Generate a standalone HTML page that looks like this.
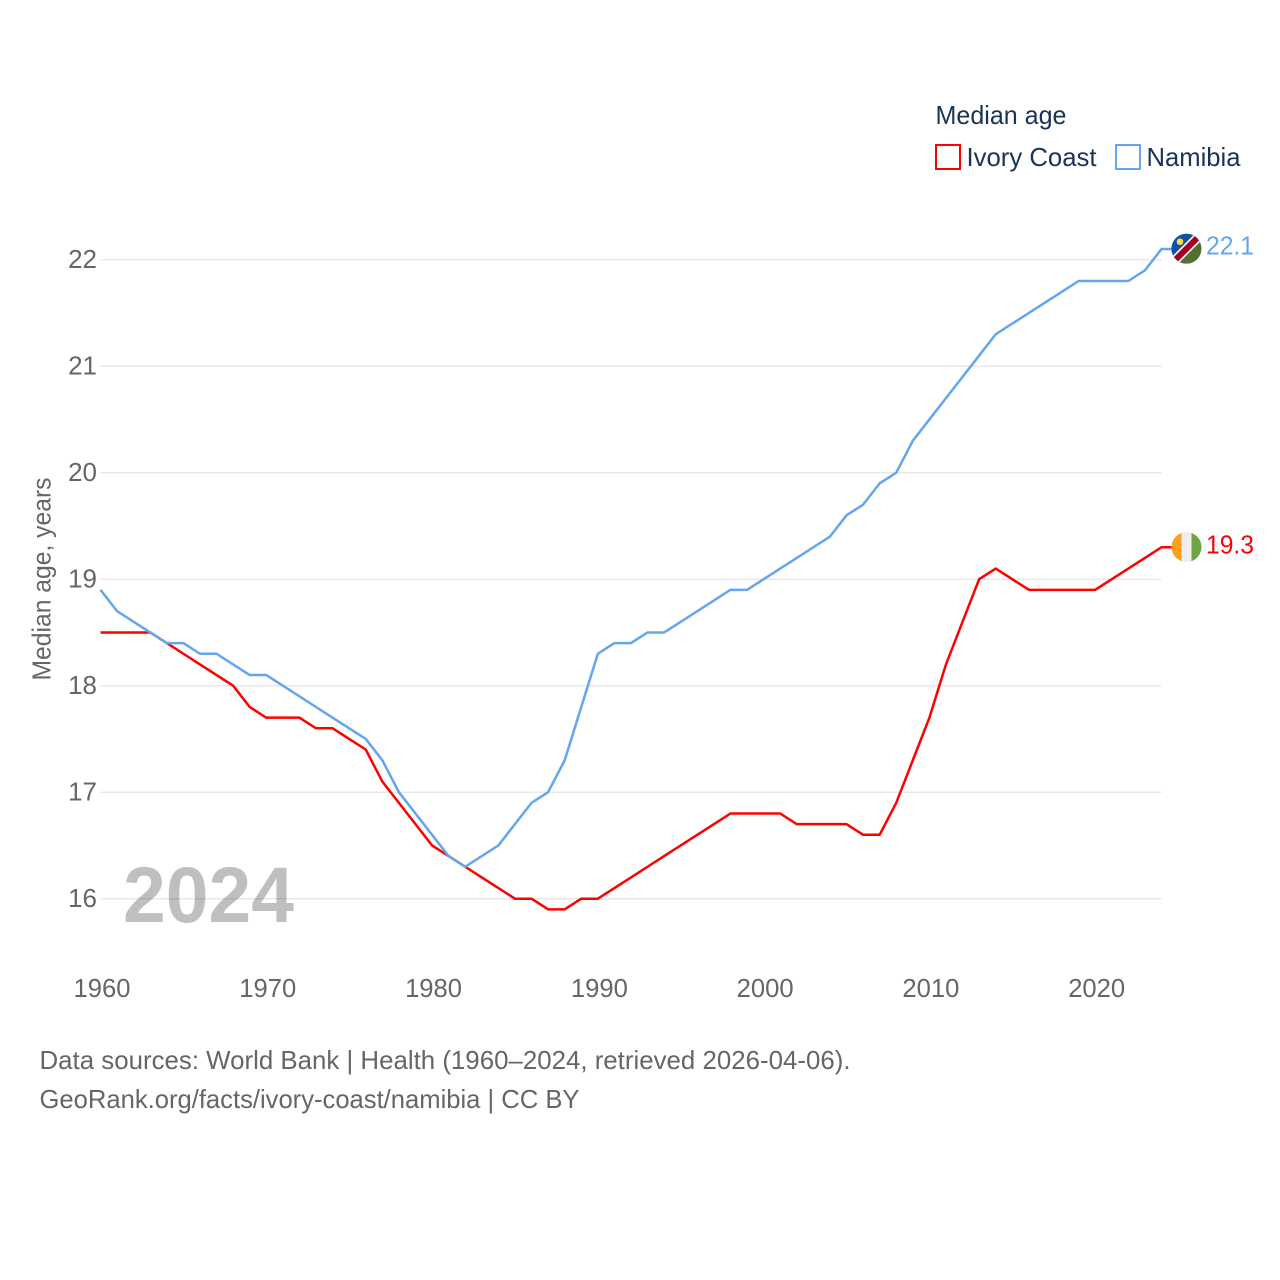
<!DOCTYPE html>
<html lang="en">
<head>
<meta charset="utf-8">
<title>Median age: Ivory Coast and Namibia</title>
<style>
html,body{margin:0;padding:0;background:#fff;}
svg{display:block;font-family:"Liberation Sans",sans-serif;}
</style>
</head>
<body>
<svg id="chart" xmlns="http://www.w3.org/2000/svg" width="1280" height="1280" viewBox="0 0 1280 1280">
  <rect width="1280" height="1280" fill="#ffffff"/>
  <g id="grid"></g>
  <g id="y-ticks"></g>
  <g id="x-ticks"></g>
  <text x="123" y="922" font-size="79" font-weight="700" fill="#000000" fill-opacity="0.25" textLength="171" lengthAdjust="spacingAndGlyphs">2024</text>
  <g id="series"></g>
  <g id="end-markers"></g>
  <text transform="translate(50.5,579) rotate(-90)" text-anchor="middle" font-size="26" fill="#666666" textLength="203" lengthAdjust="spacingAndGlyphs">Median age, years</text>
  <g>
    <text x="935.5" y="124" font-size="26" fill="#1a3358" textLength="131" lengthAdjust="spacingAndGlyphs">Median age</text>
    <g>
      <rect x="936" y="145" width="24" height="24" fill="#ffffff" stroke="#ff0000" stroke-width="2"/>
      <text x="966.5" y="166" font-size="26" fill="#1a3358" textLength="130" lengthAdjust="spacingAndGlyphs">Ivory Coast</text>
    </g>
    <g>
      <rect x="1116" y="145" width="24" height="24" fill="#ffffff" stroke="#63a6ee" stroke-width="2"/>
      <text x="1146.5" y="166" font-size="26" fill="#1a3358" textLength="94" lengthAdjust="spacingAndGlyphs">Namibia</text>
    </g>
  </g>
  <g font-size="26" fill="#666666">
    <text x="39.5" y="1069" textLength="811" lengthAdjust="spacingAndGlyphs">Data sources: World Bank | Health (1960–2024, retrieved 2026-04-06).</text>
    <text x="39.5" y="1108" textLength="540" lengthAdjust="spacingAndGlyphs">GeoRank.org/facts/ivory-coast/namibia | CC BY</text>
  </g>
</svg>
<script>
const years = [1960,1961,1962,1963,1964,1965,1966,1967,1968,1969,1970,1971,1972,1973,1974,1975,1976,1977,1978,1979,1980,1981,1982,1983,1984,1985,1986,1987,1988,1989,1990,1991,1992,1993,1994,1995,1996,1997,1998,1999,2000,2001,2002,2003,2004,2005,2006,2007,2008,2009,2010,2011,2012,2013,2014,2015,2016,2017,2018,2019,2020,2021,2022,2023,2024];
const ivoryCoast = [18.5,18.5,18.5,18.5,18.4,18.3,18.2,18.1,18.0,17.8,17.7,17.7,17.7,17.6,17.6,17.5,17.4,17.1,16.9,16.7,16.5,16.4,16.3,16.2,16.1,16.0,16.0,15.9,15.9,16.0,16.0,16.1,16.2,16.3,16.4,16.5,16.6,16.7,16.8,16.8,16.8,16.8,16.7,16.7,16.7,16.7,16.6,16.6,16.9,17.3,17.7,18.2,18.6,19.0,19.1,19.0,18.9,18.9,18.9,18.9,18.9,19.0,19.1,19.2,19.3];
const namibia = [18.9,18.7,18.6,18.5,18.4,18.4,18.3,18.3,18.2,18.1,18.1,18.0,17.9,17.8,17.7,17.6,17.5,17.3,17.0,16.8,16.6,16.4,16.3,16.4,16.5,16.7,16.9,17.0,17.3,17.8,18.3,18.4,18.4,18.5,18.5,18.6,18.7,18.8,18.9,18.9,19.0,19.1,19.2,19.3,19.4,19.6,19.7,19.9,20.0,20.3,20.5,20.7,20.9,21.1,21.3,21.4,21.5,21.6,21.7,21.8,21.8,21.8,21.8,21.9,22.1];
const yTickValues = [16,17,18,19,20,21,22];
const xTickValues = [1960,1970,1980,1990,2000,2010,2020];

const SVG_NS = 'http://www.w3.org/2000/svg';
const plotLeft = 100.5, plotRight = 1161.5, y16 = 898.7, y22 = 259.7;
const xMin = 1960, xMax = 2024, yLow = 16, yHigh = 22;
function xScale(v){ return plotLeft + (v - xMin) * (plotRight - plotLeft) / (xMax - xMin); }
function yScale(v){ return y16 + (v - yLow) * (y22 - y16) / (yHigh - yLow); }
function make(tag, attrs, parent){
  const el = document.createElementNS(SVG_NS, tag);
  for (const k in attrs) el.setAttribute(k, attrs[k]);
  parent.appendChild(el);
  return el;
}

const gridGroup = document.getElementById('grid');
const yTickGroup = document.getElementById('y-ticks');
yTickValues.forEach(function(v){
  const line = make('line', {x1:plotLeft, x2:plotRight, y1:yScale(v), y2:yScale(v), stroke:'#e9e9e9', 'stroke-width':1.5}, gridGroup);
  
  
  const label = make('text', {x:97, y:yScale(v)+8.3, 'text-anchor':'end', 'font-size':26, fill:'#666666'}, yTickGroup);
  
  
  label.textContent = String(v);
});

const xTickGroup = document.getElementById('x-ticks');
xTickValues.forEach(function(v){
  const label = make('text', {x:xScale(v)+1.5, y:997, 'text-anchor':'middle', 'font-size':26, fill:'#666666', textLength:57, lengthAdjust:'spacingAndGlyphs'}, xTickGroup);
  
  
  label.textContent = String(v);
});

function linePath(values){
  let d = '';
  values.forEach(function(v, i){
    d += (i ? 'L' : 'M') + xScale(years[i]).toFixed(2) + ' ' + yScale(v).toFixed(2);
  });
  const last = values[values.length - 1];
  d += 'L' + (xScale(years[years.length - 1]) + 10).toFixed(2) + ' ' + yScale(last).toFixed(2);
  return d;
}

const seriesGroup = document.getElementById('series');
const redLine = make('path', {d:linePath(ivoryCoast), fill:'none', stroke:'#ff0000', 'stroke-width':2.5, 'stroke-linejoin':'round'}, seriesGroup);


const blueLine = make('path', {d:linePath(namibia), fill:'none', stroke:'#63a6ee', 'stroke-width':2.5, 'stroke-linejoin':'round'}, seriesGroup);



const markers = document.getElementById('end-markers');
const flagX = xScale(2024) + 25;
const defs = make('defs', {}, markers);
const clipA = make('clipPath', {id:'clip-ci'}, defs);
make('circle', {cx:0, cy:0, r:15}, clipA);
const clipB = make('clipPath', {id:'clip-na'}, defs);
make('circle', {cx:0, cy:0, r:15}, clipB);

/* Ivory Coast flag and end value */
const ciY = yScale(ivoryCoast[ivoryCoast.length - 1]);
const ciFlag = make('g', {transform:'translate(' + flagX + ',' + (ciY - 0.2) + ')', 'clip-path':'url(#clip-ci)'}, markers);


make('rect', {x:-15, y:-15, width:10, height:30, fill:'#ff9f1c'}, ciFlag);
make('rect', {x:-5, y:-15, width:10, height:30, fill:'#eeeeee'}, ciFlag);
make('rect', {x:5, y:-15, width:10, height:30, fill:'#6da544'}, ciFlag);
const ciValue = make('text', {x:1206, y:ciY+6, 'font-size':26, fill:'#ff0000', textLength:48, lengthAdjust:'spacingAndGlyphs'}, markers);


ciValue.textContent = ivoryCoast[ivoryCoast.length - 1].toFixed(1);

/* Namibia flag and end value */
const naY = yScale(namibia[namibia.length - 1]);
const naFlag = make('g', {transform:'translate(' + flagX + ',' + (naY - 0.3) + ')', 'clip-path':'url(#clip-na)'}, markers);


make('rect', {x:-15, y:-15, width:30, height:30, fill:'#4f7031'}, naFlag);
make('polygon', {points:'-16,16 -16,-16 16,-16', fill:'#0d50a8'}, naFlag);
make('line', {x1:-16, y1:16, x2:16, y2:-16, stroke:'#f0f0f0', 'stroke-width':9.5}, naFlag);
make('line', {x1:-16, y1:16, x2:16, y2:-16, stroke:'#a2001d', 'stroke-width':6}, naFlag);
make('circle', {cx:-6.5, cy:-7, r:3.3, fill:'#ffda44'}, naFlag);
const naValue = make('text', {x:1206, y:naY+5.5, 'font-size':26, fill:'#63a6ee', textLength:48, lengthAdjust:'spacingAndGlyphs'}, markers);


naValue.textContent = namibia[namibia.length - 1].toFixed(1);
</script>
</body>
</html>
